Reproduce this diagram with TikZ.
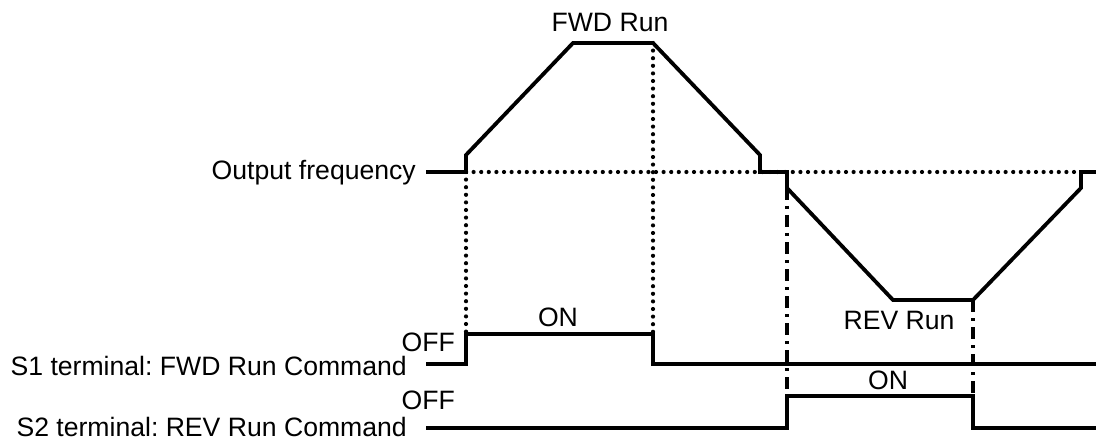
\documentclass[tikz,border=0pt]{standalone}
\usepackage{fontspec}
\setmainfont{Liberation Sans}
\begin{document}
\frenchspacing
\begin{tikzpicture}[x=1pt,y=-1pt,
  lbl/.style={inner sep=0pt,font=\frenchspacing\fontsize{26.6}{30}\selectfont},
  sig/.style={line width=3.8pt,line join=miter,line cap=butt},
  dotline/.style={line width=4.2pt,line cap=round,dash pattern=on 0pt off 7.6pt},
  dashdot/.style={line width=3.6pt,dash pattern=on 12pt off 6pt on 3pt off 6pt}]
\useasboundingbox (0,0) rectangle (1096,441);
% output frequency vertices
\coordinate (f0) at (426,172);
\coordinate (f1) at (466,172);
\coordinate (f2) at (466,155);
\coordinate (f3) at (573,43);
\coordinate (f4) at (653,43);
\coordinate (f5) at (760,155);
\coordinate (f6) at (760,172);
\coordinate (f7) at (787,172);
\coordinate (f8) at (787,188);
\coordinate (f9) at (893,300);
\coordinate (f10) at (973,300);
\coordinate (f11) at (1081,188);
\coordinate (f12) at (1081,172);
\coordinate (f13) at (1096,172);
% S1 vertices
\coordinate (a0) at (426,364);
\coordinate (a1) at (466,364);
\coordinate (a2) at (466,334);
\coordinate (a3) at (653,334);
\coordinate (a4) at (653,364);
\coordinate (a5) at (1096,364);
% S2 vertices
\coordinate (b0) at (426,428);
\coordinate (b1) at (787,428);
\coordinate (b2) at (787,396);
\coordinate (b3) at (973,396);
\coordinate (b4) at (973,428);
\coordinate (b5) at (1096,428);
% guide lines
\draw[dotline] (f1) -- (f12);
\draw[dotline] (f1) -- (a2);
\draw[dotline] (f4) -- (a3);
\draw[dashdot] (f8) -- (b2);
\draw[dashdot] (f10) -- (b3);
% signals
\draw[sig] (f0) -- (f1) -- (f2) -- (f3) -- (f4) -- (f5) -- (f6) -- (f7) -- (f8) -- (f9) -- (f10) -- (f11) -- (f12) -- (f13);
\draw[sig] (a0) -- (a1) -- (a2) -- (a3) -- (a4) -- (a5);
\draw[sig] (b0) -- (b1) -- (b2) -- (b3) -- (b4) -- (b5);
% labels
\node[lbl,anchor=base] (fwd) at (610,32) {FWD Run};
\node[lbl,anchor=base east] (outf) at (416,180) {Output frequency};
\node[lbl,anchor=base] (on1) at (558,326) {ON};
\node[lbl,anchor=base east] (off1) at (455,351) {OFF};
\node[lbl,anchor=base east] (s1) at (407,375) {S1 terminal: FWD Run Command};
\node[lbl,anchor=base] (rev) at (899,329) {REV Run};
\node[lbl,anchor=base] (on2) at (888,389) {ON};
\node[lbl,anchor=base east] (off2) at (455,409) {OFF};
\node[lbl,anchor=base east] (s2) at (407,436) {S2 terminal: REV Run Command};
\end{tikzpicture}
\end{document}
